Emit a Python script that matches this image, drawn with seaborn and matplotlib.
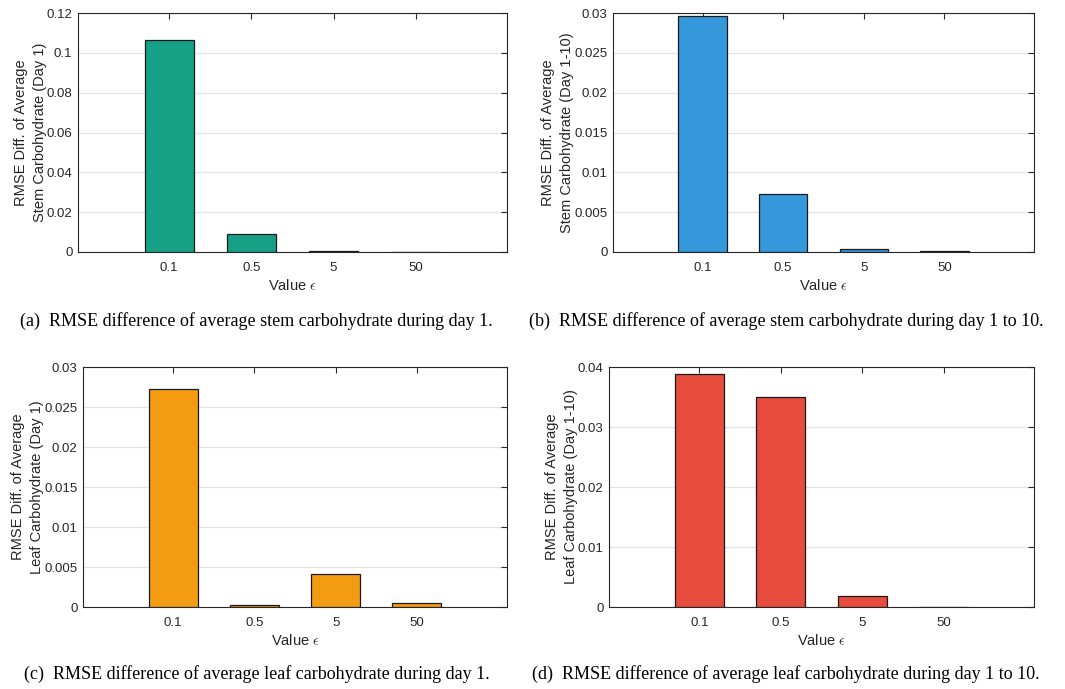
import numpy as np
import pandas as pd
import matplotlib
matplotlib.use("Agg")
import matplotlib.pyplot as plt
import seaborn as sns

# ---- data ----
eps_labels = ["0.1", "0.5", "5", "50"]
stem_day1 = [0.1063, 0.0088, 0.0005, 0.0001]
stem_day1_10 = [0.02966, 0.0073, 0.0004, 0.0001]
leaf_day1 = [0.02729, 0.00025, 0.00408, 0.00046]
leaf_day1_10 = [0.03883, 0.03506, 0.00189, 0.00005]

colors = ["#16A085", "#3498DB", "#F39C12", "#E74C3C"]
ylabels = [
    "RMSE Diff. of Average\nStem Carbohydrate (Day 1)",
    "RMSE Diff. of Average\nStem Carbohydrate (Day 1-10)",
    "RMSE Diff. of Average\nLeaf Carbohydrate (Day 1)",
    "RMSE Diff. of Average\nLeaf Carbohydrate (Day 1-10)",
]
captions = [
    "(a)  RMSE difference of average stem carbohydrate during day 1.",
    "(b)  RMSE difference of average stem carbohydrate during day 1 to 10.",
    "(c)  RMSE difference of average leaf carbohydrate during day 1.",
    "(d)  RMSE difference of average leaf carbohydrate during day 1 to 10.",
]
yticks = [
    [0, 0.02, 0.04, 0.06, 0.08, 0.1, 0.12],
    [0, 0.005, 0.01, 0.015, 0.02, 0.025, 0.03],
    [0, 0.005, 0.01, 0.015, 0.02, 0.025, 0.03],
    [0, 0.01, 0.02, 0.03, 0.04],
]
ytick_labels = [
    ["0", "0.02", "0.04", "0.06", "0.08", "0.1", "0.12"],
    ["0", "0.005", "0.01", "0.015", "0.02", "0.025", "0.03"],
    ["0", "0.005", "0.01", "0.015", "0.02", "0.025", "0.03"],
    ["0", "0.01", "0.02", "0.03", "0.04"],
]
series = [stem_day1, stem_day1_10, leaf_day1, leaf_day1_10]

sns.set_theme(style="white")
plt.rcParams["font.family"] = ["Liberation Sans", "DejaVu Sans"]
plt.rcParams["mathtext.fontset"] = "cm"

W, H = 1065, 689
fig = plt.figure(figsize=(W / 100, H / 100), dpi=100)

# axes boxes in pixels: (left, top, right, bottom)
boxes = [(78, 13, 507, 252), (613, 13, 1034, 252),
         (83, 367, 507, 607), (609, 367, 1034, 607)]
cap_pos = [(256, 321), (786, 321), (257, 674), (786, 674)]

axcol = "#262626"
for i in range(4):
    l, t, r, b = boxes[i]
    ax = fig.add_axes([l / W, 1 - b / H, (r - l) / W, (b - t) / H])
    df = pd.DataFrame({"eps": eps_labels, "val": series[i]})
    sns.barplot(data=df, x="eps", y="val", color=colors[i], saturation=1,
                edgecolor="#1a1a1a", linewidth=0.9, width=0.6, ax=ax, zorder=3)
    ax.set_xlim(-1.11, 4.11)
    ax.set_ylim(yticks[i][0], yticks[i][-1])
    ax.set_yticks(yticks[i])
    ax.set_yticklabels(ytick_labels[i])
    ax.yaxis.grid(True, color="#e3e3e3", linewidth=0.9, zorder=0)
    ax.set_axisbelow(True)
    ax.tick_params(axis="both", direction="in", length=4, width=0.8,
                   colors=axcol, labelsize=9.5, top=True, right=True,
                   labelcolor=axcol)
    ax.tick_params(axis="x", pad=7)
    ax.tick_params(axis="y", pad=4)
    for s in ax.spines.values():
        s.set_color(axcol)
        s.set_linewidth(0.8)
    ax.set_xlabel(r"Value $\epsilon$", fontsize=10.5, color=axcol, labelpad=3)
    ax.set_ylabel(ylabels[i], fontsize=10.5, color=axcol, labelpad=0,
                  linespacing=1.45)
    cx, cy = cap_pos[i]
    fig.text(cx / W, 1 - cy / H, captions[i], ha="center", va="center",
             fontsize=13, family=["Liberation Serif", "DejaVu Serif"],
             color="black")

fig.savefig("out.png", dpi=100)
